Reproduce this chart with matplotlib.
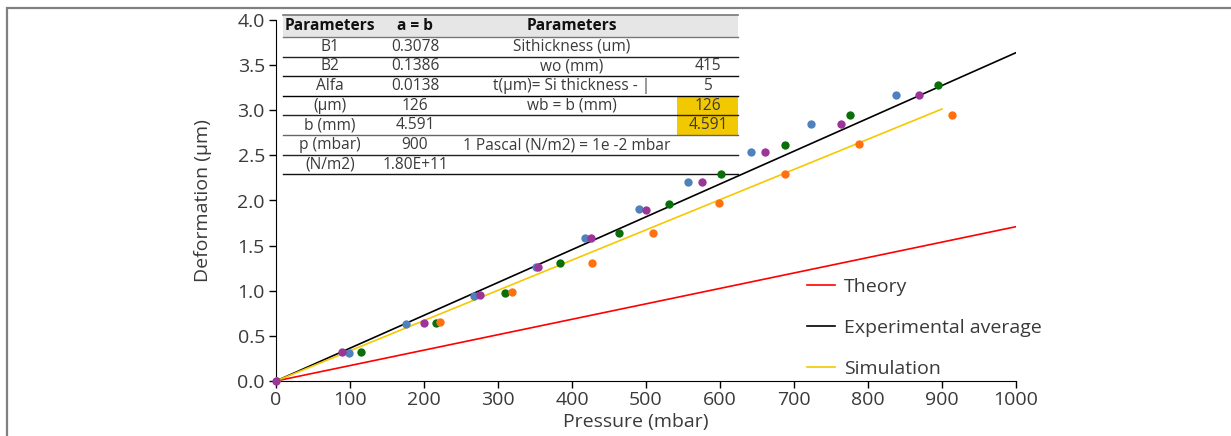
import matplotlib
matplotlib.use("Agg")
import matplotlib.pyplot as plt
from matplotlib.patches import Rectangle
from matplotlib.lines import Line2D

plt.rcParams['font.family'] = ['Open Sans', 'DejaVu Sans']

# ---------------- data ----------------
blue_x = [0, 98.6, 175.7, 267, 351, 418, 490, 556.8, 641.4, 722.5, 837.8]
blue_y = [0, 0.31, 0.632, 0.945, 1.263, 1.584, 1.902, 2.209, 2.534, 2.851, 3.173]
purple_x = [0, 89.2, 200, 275.7, 353.6, 425.7, 500, 575.2, 660.8, 763.5, 868.5]
purple_y = [0, 0.319, 0.639, 0.949, 1.263, 1.584, 1.898, 2.209, 2.534, 2.851, 3.173]
green_x = [0, 115.3, 216.7, 310, 383.8, 464, 531.5, 601, 687.4, 776, 895]
green_y = [0, 0.325, 0.646, 0.978, 1.304, 1.636, 1.958, 2.29, 2.615, 2.951, 3.276]
orange_x = [0, 222, 319, 427, 509.5, 598.6, 687.8, 787.4, 913]
orange_y = [0, 0.65, 0.982, 1.311, 1.64, 1.972, 2.294, 2.63, 2.951]

theory_x = [0, 1000]
theory_y = [0, 1.71]
exp_x = [0, 1000]
exp_y = [0, 3.638]
sim_x = [0, 900]
sim_y = [0, 3.014]

x_ticks = [0, 100, 200, 300, 400, 500, 600, 700, 800, 900, 1000]
y_ticks = [0.0, 0.5, 1.0, 1.5, 2.0, 2.5, 3.0, 3.5, 4.0]

table_col1 = ["Parameters", "B1", "B2", "Alfa", "(µm)", "b (mm)", "p (mbar)", "(N/m2)"]
table_col2 = ["a = b", "0.3078", "0.1386", "0.0138", "126", "4.591", "900", "1.80E+11"]
table_col3 = ["Parameters", "Sithickness (um)", "wo (mm)", "t(µm)= Si thickness - |",
              "wb = b (mm)", "", "1 Pascal (N/m2) = 1e -2 mbar", ""]
table_col4 = ["", "", "415", "5", "126", "4.591", "", ""]
highlight_rows = [4, 5]

# ---------------- figure ----------------
W, H = 1231, 436
fig = plt.figure(figsize=(W / 100, H / 100), dpi=100)
AX_L, AX_R, AX_B, AX_T = 276, 1016, 381, 20
ax = fig.add_axes([AX_L / W, 1 - AX_B / H, (AX_R - AX_L) / W, (AX_B - AX_T) / H])

TXT = '#3a3a3a'

# outer frame (left + top visible)
fig.patches.append(Rectangle((7 / W, -0.2), 1.5, 1 - 8 / H + 0.2, transform=fig.transFigure,
                             fill=False, ec='#808080', lw=1.6, clip_on=False))

ax.plot(theory_x, theory_y, color='#ff0000', lw=1.2, label='Theory', zorder=2)
ax.plot(exp_x, exp_y, color='black', lw=1.2, label='Experimental average', zorder=2)
ax.plot(sim_x, sim_y, color='#f5c800', lw=1.2, label='Simulation', zorder=2)

ms = 36
ax.scatter(blue_x, blue_y, s=ms, color='#4f81bd', zorder=3, linewidths=0)
ax.scatter(green_x, green_y, s=ms, color='#0a6e0a', zorder=3, linewidths=0)
ax.scatter(orange_x, orange_y, s=ms, color='#ff700f', zorder=3, linewidths=0)
ax.scatter(purple_x, purple_y, s=ms, color='#9b3598', zorder=4, linewidths=0, clip_on=False)

ax.set_xlim(0, 1000)
ax.set_ylim(0, 4.0)
ax.set_xticks(x_ticks)
ax.set_yticks(y_ticks)
ax.set_yticklabels([f"{v:.1f}" for v in y_ticks])
ax.spines['top'].set_visible(False)
ax.spines['right'].set_visible(False)
ax.tick_params(axis='both', direction='out', length=5, width=1, color='black')
ax.tick_params(axis='x', labelsize=14, labelcolor=TXT, pad=2)
ax.tick_params(axis='y', labelsize=14, labelcolor=TXT, pad=3)
ax.set_xlabel('Pressure (mbar)', fontsize=14, color=TXT, labelpad=3,
              x=(636 - AX_L) / (AX_R - AX_L))
ax.set_ylabel('Deformation (µm)', fontsize=14, color=TXT, labelpad=18)

leg = ax.legend(loc='upper left', bbox_to_anchor=((807 - AX_L) / 740, (AX_B - 278) / 361),
                frameon=False, fontsize=14, handlelength=1.45, handletextpad=0.45,
                labelspacing=1.18, borderpad=0, borderaxespad=0)
for t in leg.get_texts():
    t.set_color(TXT)

# ---------------- parameter table (drawn in axes fraction) ----------------
def axf(px, py):
    return (px - AX_L) / (AX_R - AX_L), (AX_B - py) / (AX_B - AX_T)

T_L, T_R = 283, 738
col_centers = [330, 415, 572, 708]
row_tops = [15, 36.7, 56.7, 76, 96, 115.3, 135, 155]
row_bot = [36.7, 56.7, 76, 96, 115.3, 135, 155, 174.3]
line_colors = ['#777777', '#222222', '#111111', '#000000', '#222222', '#666666', '#222222', '#111111']

# header background
x0, y0 = axf(T_L, row_bot[0])
x1, y1 = axf(T_R, row_tops[0])
ax.add_patch(Rectangle((x0, y0), x1 - x0, y1 - y0, transform=ax.transAxes,
                       fc='#e6e6e6', ec='none', zorder=1, clip_on=False))
ax.add_line(Line2D([x0, x1], [y1, y1], transform=ax.transAxes, color='#777777', lw=1.2,
                   zorder=1.5, clip_on=False))

# highlighted cells
for r in highlight_rows:
    hx0, hy0 = axf(677, row_bot[r])
    hx1, hy1 = axf(T_R, row_tops[r])
    ax.add_patch(Rectangle((hx0, hy0), hx1 - hx0, hy1 - hy0, transform=ax.transAxes,
                           fc='#f2c800', ec='none', zorder=1, clip_on=False))

cols = [table_col1, table_col2, table_col3, table_col4]
for r in range(len(table_col1)):
    ly = axf(0, row_bot[r])[1]
    ax.add_line(Line2D([x0, x1], [ly, ly], transform=ax.transAxes, color=line_colors[r],
                       lw=1.0, zorder=1.5, clip_on=False))
    cy = axf(0, (row_tops[r] + row_bot[r]) / 2)[1]
    for c, col in enumerate(cols):
        txt = col[r]
        if not txt:
            continue
        cx = axf(col_centers[c], 0)[0]
        if r == 6 and c == 2:
            cx = axf(567, 0)[0]
        ax.text(cx, cy, txt, transform=ax.transAxes, ha='center', va='center',
                fontsize=11.2, color='#111111' if r == 0 else TXT,
                fontweight='bold' if r == 0 else 'normal', zorder=2, clip_on=False)

fig.savefig('out.png', dpi=100)
